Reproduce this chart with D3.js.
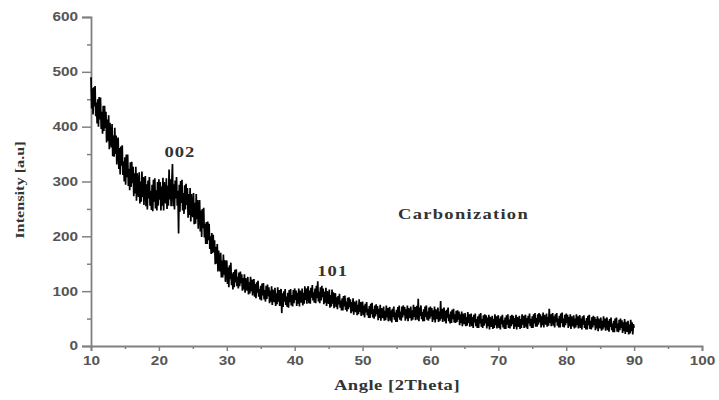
<!DOCTYPE html>
<html>
<head>
<meta charset="utf-8">
<script src="https://cdn.jsdelivr.net/npm/d3@7/dist/d3.min.js"></script>
<style>
  html, body { margin: 0; padding: 0; background: #fff; }
  svg { display: block; }
</style>
</head>
<body>
<div id="chart"></div>
<script>
// XRD pattern of the carbonized sample: intensity recorded every 0.1° (2θ),
// one row per whole degree from 10° to 89°, plus the last reading at 90°.
const startAngle = 10;
const stepAngle = 0.1;
const intensityRows = [
  [490, 433, 470, 422, 472, 437, 474, 419, 444, 406],
  [450, 400, 454, 413, 453, 396, 427, 387, 438, 392],
  [438, 397, 427, 371, 413, 374, 421, 359, 407, 379],
  [362, 405, 346, 384, 345, 398, 350, 384, 331, 372],
  [380, 323, 361, 313, 364, 329, 366, 312, 337, 300],
  [344, 294, 349, 308, 349, 292, 323, 284, 335, 290],
  [336, 297, 327, 273, 315, 278, 327, 265, 315, 287],
  [272, 317, 260, 300, 263, 318, 272, 308, 257, 300],
  [310, 255, 295, 249, 302, 269, 308, 256, 283, 248],
  [294, 246, 303, 263, 306, 251, 284, 247, 299, 256],
  [304, 267, 299, 247, 291, 256, 307, 247, 299, 273],
  [260, 306, 250, 292, 256, 322, 267, 304, 255, 299],
  [332, 255, 295, 249, 302, 269, 308, 256, 283, 205],
  [294, 245, 301, 261, 303, 247, 279, 241, 293, 249],
  [296, 257, 288, 234, 277, 239, 288, 227, 277, 250],
  [235, 279, 222, 261, 223, 277, 231, 266, 214, 257],
  [266, 209, 247, 199, 250, 215, 252, 198, 223, 186],
  [226, 186, 227, 193, 223, 177, 200, 168, 206, 169],
  [203, 171, 193, 149, 181, 150, 186, 136, 174, 150],
  [136, 170, 125, 156, 125, 167, 130, 157, 117, 149],
  [156, 113, 143, 107, 147, 122, 152, 111, 132, 103],
  [135, 107, 139, 116, 140, 109, 126, 105, 134, 109],
  [136, 114, 131, 101, 124, 103, 131, 97, 124, 110],
  [101, 126, 94, 116, 96, 126, 100, 121, 92, 117],
  [122, 90, 113, 87, 116, 97, 119, 90, 104, 85],
  [110, 83, 114, 92, 115, 85, 102, 81, 110, 86],
  [112, 91, 107, 78, 101, 81, 109, 75, 103, 88],
  [80, 106, 73, 96, 76, 107, 81, 102, 73, 98],
  [104, 60, 96, 71, 100, 81, 104, 75, 90, 71],
  [97, 70, 102, 80, 104, 74, 93, 72, 102, 78],
  [105, 84, 101, 73, 97, 77, 105, 72, 101, 87],
  [79, 105, 74, 97, 77, 109, 84, 105, 77, 103],
  [109, 78, 101, 77, 106, 88, 111, 83, 98, 79],
  [105, 78, 110, 87, 118, 81, 99, 78, 107, 83],
  [110, 89, 105, 76, 99, 79, 106, 73, 100, 86],
  [77, 103, 70, 93, 72, 103, 77, 98, 69, 94],
  [96, 71, 89, 67, 91, 76, 95, 70, 83, 65],
  [87, 65, 91, 72, 92, 66, 81, 63, 88, 67],
  [89, 71, 85, 60, 80, 63, 87, 57, 81, 68],
  [62, 83, 56, 75, 58, 85, 62, 80, 55, 76],
  [81, 56, 74, 52, 77, 61, 80, 56, 68, 51],
  [73, 51, 77, 58, 79, 52, 67, 50, 74, 54],
  [76, 58, 73, 47, 68, 51, 75, 46, 69, 57],
  [51, 72, 46, 64, 47, 74, 52, 69, 45, 66],
  [71, 46, 65, 43, 68, 53, 72, 48, 61, 44],
  [66, 44, 71, 52, 74, 48, 63, 46, 72, 52],
  [74, 56, 71, 46, 67, 50, 74, 45, 69, 57],
  [51, 72, 46, 65, 48, 75, 53, 71, 47, 68],
  [73, 48, 86, 45, 70, 55, 74, 49, 62, 45],
  [67, 45, 72, 53, 74, 48, 63, 46, 70, 50],
  [72, 54, 69, 44, 65, 48, 72, 43, 67, 55],
  [49, 70, 44, 63, 46, 82, 50, 68, 44, 65],
  [70, 45, 64, 41, 66, 51, 70, 45, 58, 41],
  [63, 42, 66, 49, 68, 43, 58, 42, 64, 44],
  [65, 48, 63, 38, 58, 42, 63, 36, 59, 46],
  [40, 60, 36, 53, 37, 62, 42, 58, 35, 54],
  [59, 36, 53, 33, 57, 43, 59, 36, 49, 33],
  [54, 33, 58, 41, 60, 35, 49, 33, 56, 37],
  [58, 41, 56, 32, 52, 36, 57, 30, 53, 41],
  [35, 55, 31, 49, 33, 58, 38, 54, 32, 51],
  [56, 33, 50, 30, 54, 40, 57, 34, 47, 31],
  [52, 31, 56, 39, 58, 33, 48, 32, 55, 36],
  [57, 40, 55, 31, 51, 35, 57, 30, 53, 41],
  [35, 55, 31, 49, 33, 58, 39, 55, 33, 52],
  [57, 34, 51, 31, 55, 41, 59, 36, 49, 33],
  [54, 33, 58, 41, 60, 35, 51, 35, 58, 39],
  [60, 43, 58, 34, 54, 38, 61, 34, 57, 45],
  [39, 59, 35, 53, 37, 68, 42, 58, 36, 55],
  [60, 37, 54, 34, 58, 44, 60, 37, 50, 34],
  [55, 34, 59, 42, 61, 35, 50, 34, 57, 38],
  [59, 42, 57, 33, 53, 36, 58, 31, 54, 42],
  [36, 56, 32, 50, 34, 58, 38, 54, 32, 51],
  [56, 33, 50, 30, 54, 39, 56, 33, 46, 30],
  [51, 30, 55, 38, 57, 31, 46, 30, 53, 34],
  [55, 38, 53, 29, 49, 32, 54, 27, 50, 38],
  [32, 52, 28, 46, 30, 54, 34, 50, 28, 47],
  [52, 29, 46, 26, 49, 35, 52, 29, 41, 25],
  [46, 25, 50, 33, 52, 26, 41, 25, 48, 29],
  [50, 33, 47, 24, 43, 27, 49, 22, 44, 32],
  [26, 46, 21, 39, 23, 48, 27, 43, 21, 40],
  [33]
];

const xTicks = [10, 20, 30, 40, 50, 60, 70, 80, 90, 100];
const yTicks = [0, 100, 200, 300, 400, 500, 600];
const xMinorTicks = [15, 25, 35, 45, 55, 65, 75, 85, 95];
const yMinorTicks = [50, 150, 250, 350, 450, 550];

const peakLabels = [
  { text: "002", angle: 23.1, value: 345 },
  { text: "101", angle: 45.6, value: 128 }
];
const sampleName = "Carbonization";
const xTitle = "Angle [2Theta]";
const yTitle = "Intensity [a.u]";

// flatten the rows into (angle, intensity) pairs
const pattern = [];
intensityRows.forEach((row, r) => {
  row.forEach((v, k) => {
    pattern.push({ angle: +(startAngle + r + k * stepAngle).toFixed(1), value: v });
  });
});

const W = 719, H = 400;
const margin = { left: 91, right: 17, top: 17, bottom: 54 };
const stretch = 1.28;   // wide lettering used throughout the figure

const svg = d3.select("#chart").append("svg")
  .attr("width", W).attr("height", H);

const x = d3.scaleLinear().domain([10, 100]).range([margin.left, W - margin.right]);
const y = d3.scaleLinear().domain([0, 600]).range([H - margin.bottom, margin.top]);

const axisColor = "#808080";
const tickTextColor = "#555";
const sans = "'Liberation Sans', Arial, sans-serif";
const serif = "'Liberation Serif', 'Times New Roman', serif";

// move a text's x/y into a transform so it can be widened in place
function widen(sel) {
  sel.each(function () {
    const t = d3.select(this);
    const tx = +t.attr("x") || 0, ty = +t.attr("y") || 0;
    t.attr("x", null).attr("y", null)
      .attr("transform", `translate(${tx},${ty}) scale(${stretch},1)`);
  });
}

// x axis
svg.append("g")
  .attr("transform", `translate(0,${y(0)})`)
  .call(d3.axisBottom(x).tickValues(xTicks).tickSize(5).tickPadding(5).tickFormat(d3.format("d")));
svg.append("g")
  .attr("transform", `translate(0,${y(0)})`)
  .call(d3.axisBottom(x).tickValues(xMinorTicks).tickSize(3).tickFormat(""))
  .call(g => g.select(".domain").remove());

// y axis
svg.append("g")
  .attr("transform", `translate(${x(10)},0)`)
  .call(d3.axisLeft(y).tickValues(yTicks).tickSize(9).tickPadding(4).tickFormat(d3.format("d")));
svg.append("g")
  .attr("transform", `translate(${x(10)},0)`)
  .call(d3.axisLeft(y).tickValues(yMinorTicks).tickSize(4).tickFormat(""))
  .call(g => g.select(".domain").remove());

svg.selectAll(".domain").attr("stroke", axisColor).attr("stroke-width", 1.8);
svg.selectAll(".tick line").attr("stroke", axisColor).attr("stroke-width", 1.5);
svg.selectAll(".tick text")
  .attr("fill", tickTextColor)
  .attr("font-family", sans)
  .attr("font-weight", "bold")
  .attr("font-size", 12)
  .call(widen);

// diffraction trace
const line = d3.line()
  .x(d => x(d.angle))
  .y(d => y(d.value));

svg.append("path")
  .datum(pattern)
  .attr("fill", "none")
  .attr("stroke", "#000")
  .attr("stroke-width", 1.7)
  .attr("stroke-linejoin", "bevel")
  .attr("d", line);

// peak labels
svg.selectAll(".peak")
  .data(peakLabels)
  .enter().append("text")
  .attr("class", "peak")
  .attr("x", d => x(d.angle))
  .attr("y", d => y(d.value))
  .attr("text-anchor", "middle")
  .attr("font-family", serif)
  .attr("font-weight", "bold")
  .attr("font-size", 14.5)
  .attr("fill", "#333")
  .attr("letter-spacing", 0.8)
  .text(d => d.text)
  .call(widen);

svg.append("text")
  .attr("x", 398)
  .attr("y", 219)
  .attr("font-family", serif)
  .attr("font-weight", "bold")
  .attr("font-size", 14.5)
  .attr("fill", "#333")
  .attr("letter-spacing", 1)
  .text(sampleName)
  .call(widen);

// axis titles
svg.append("text")
  .attr("x", 397)
  .attr("y", 390)
  .attr("text-anchor", "middle")
  .attr("font-family", serif)
  .attr("font-weight", "bold")
  .attr("font-size", 14.5)
  .attr("fill", "#333")
  .attr("letter-spacing", 0.4)
  .text(xTitle)
  .call(widen);

svg.append("text")
  .attr("transform", `translate(24,190) rotate(-90) scale(1.25,1)`)
  .attr("text-anchor", "middle")
  .attr("font-family", serif)
  .attr("font-weight", "bold")
  .attr("font-size", 13)
  .attr("fill", "#333")
  .text(yTitle);
</script>
</body>
</html>
